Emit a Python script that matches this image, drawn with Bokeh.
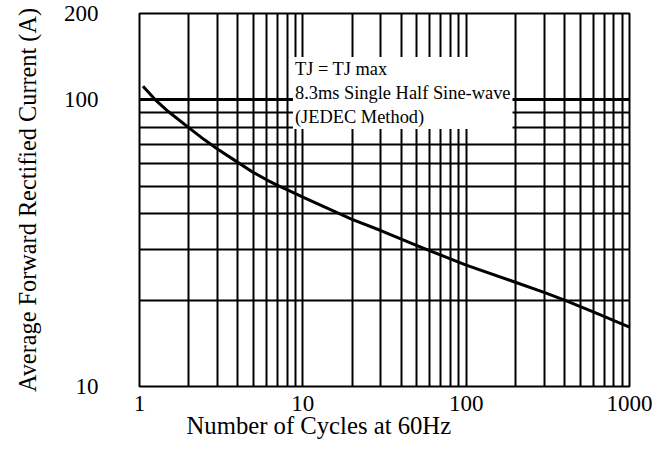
from bokeh.plotting import figure
from bokeh.models import FixedTicker, NumeralTickFormatter, Grid, Label, Title, Range1d
from bokeh.embed import file_html
from bokeh.resources import INLINE

# ---- data ----
cycles = [1.05, 1.25, 1.5, 2, 2.5, 3, 4, 5, 6, 7, 8, 10, 20, 30, 50, 100, 200, 300, 400, 600, 1000]
current = [111.5, 100, 91, 80, 72.5, 67.4, 60.5, 55.7, 52.6, 50.3, 48.6, 45.8, 38.3, 35, 31, 26.5, 23.1, 21.3, 20, 18.2, 16.1]

x_tick_values = [1, 10, 100, 1000]
y_tick_values = [10, 100, 200]
x_grid_values = [2, 3, 4, 5, 6, 7, 8, 9, 10, 20, 30, 40, 50, 60, 70, 80, 90, 100,
                 200, 300, 400, 500, 600, 700, 800, 900]
y_grid_values = [20, 30, 40, 50, 60, 70, 80, 90]
y_heavy_grid_values = [100]
note_lines = ["TJ = TJ max", "8.3ms Single Half Sine-wave", "(JEDEC Method)"]
note_x, note_y = 8.7, 141

x_title = "Number of Cycles at 60Hz"
y_title = "Average Forward Rectified Current (A)"

FONT = "Liberation Serif"

p = figure(width=652, height=444, x_axis_type="log", y_axis_type="log",
           x_range=Range1d(1, 1000), y_range=Range1d(10, 200),
           output_backend="svg", toolbar_location=None,
           min_border_left=139, min_border_right=23, min_border_top=13, min_border_bottom=58)
p.background_fill_color = "white"
p.border_fill_color = "white"
p.outline_line_color = "black"
p.outline_line_width = 2

# grids
p.xgrid.ticker = FixedTicker(ticks=x_grid_values)
p.xgrid.grid_line_color = "black"
p.xgrid.grid_line_width = 2
p.ygrid.ticker = FixedTicker(ticks=y_grid_values)
p.ygrid.grid_line_color = "black"
p.ygrid.grid_line_width = 2
p.add_layout(Grid(dimension=1, ticker=FixedTicker(ticks=y_heavy_grid_values),
                  grid_line_color="black", grid_line_width=3))

# axes
p.xaxis.ticker = FixedTicker(ticks=x_tick_values)
p.yaxis.ticker = FixedTicker(ticks=y_tick_values)
p.axis.formatter = NumeralTickFormatter(format="0")
p.axis.axis_line_color = None
p.axis.major_tick_line_color = None
p.axis.minor_tick_line_color = None
p.axis.major_tick_in = 0
p.axis.major_tick_out = 0
p.axis.major_label_text_font = FONT
p.axis.major_label_text_font_size = "23px"
p.axis.major_label_text_color = "black"
p.xaxis.major_label_standoff = 9
p.yaxis.major_label_standoff = 41

p.yaxis.axis_label = y_title
p.yaxis.axis_label_text_font = FONT
p.yaxis.axis_label_text_font_size = "24.3px"
p.yaxis.axis_label_text_font_style = "normal"
p.yaxis.axis_label_text_color = "black"
p.yaxis.axis_label_standoff = 20

# curve
p.line(cycles, current, line_color="black", line_width=3)

# note box
p.add_layout(Label(x=note_x, y=note_y, text="\n".join(note_lines),
                   text_font=FONT, text_font_size="18.4px", text_color="black",
                   text_align="left", text_baseline="top",
                   background_fill_color="white", padding=2))

# x title (left of centre as in the reference)
p.add_layout(Title(text=x_title, align="left", offset=47, text_font=FONT,
                   text_font_size="24.7px", text_font_style="normal",
                   text_color="black", standoff=-7), "below")

open("out.html", "w").write(file_html(p, INLINE))
